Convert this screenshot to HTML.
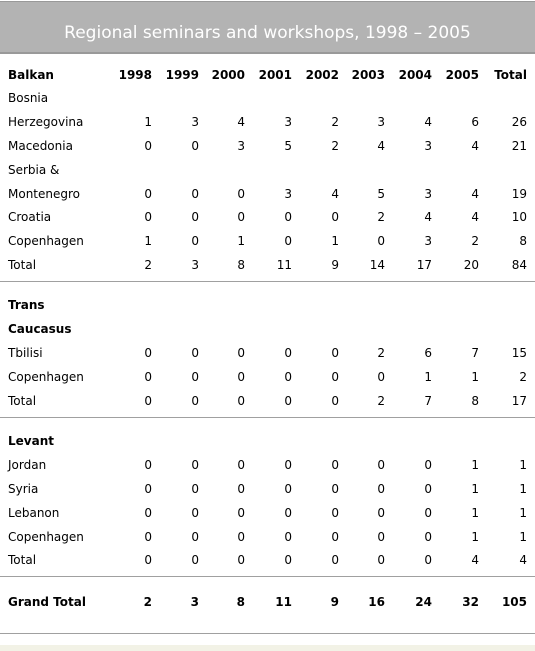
<!DOCTYPE html><html><head><style>
body{margin:0;width:535px;height:651px;background:#fff;font-family:"DejaVu Sans","Liberation Sans",sans-serif;font-size:12px;color:#000;position:relative;overflow:hidden}
.t{position:absolute;white-space:nowrap;line-height:14px}
.b{font-weight:bold}
.hr{position:absolute;left:0;width:535px;height:1px;background:#a0a0a0}
</style></head><body>
<div style="position:absolute;left:0;top:1px;width:535px;height:50px;background:#b3b3b3;border-top:1px solid #999;border-bottom:2px solid #999"></div>
<div class="t" style="left:0;width:535px;text-align:center;top:23px;color:#fff;font-size:17px;line-height:20px">Regional seminars and workshops, 1998 – 2005</div>
<div id="tbl"></div>
<div class="hr" style="top:633px"></div>
<div style="position:absolute;left:0;top:645px;width:535px;height:6px;background:#f2f2e6"></div>
<script>
const years=["1998","1999","2000","2001","2002","2003","2004","2005","Total"];
const colRight=[152,199,245,292,339,385,432,479,527];
const rows=[
["Balkan",years,75,1],
["Bosnia",null,98,0],
["Herzegovina",[1,3,4,3,2,3,4,6,26],122,0],
["Macedonia",[0,0,3,5,2,4,3,4,21],146,0],
["Serbia &",null,170,0],
["Montenegro",[0,0,0,3,4,5,3,4,19],194,0],
["Croatia",[0,0,0,0,0,2,4,4,10],217,0],
["Copenhagen",[1,0,1,0,1,0,3,2,8],241,0],
["Total",[2,3,8,11,9,14,17,20,84],265,0],
["Trans",null,305,1],
["Caucasus",null,329,1],
["Tbilisi",[0,0,0,0,0,2,6,7,15],353,0],
["Copenhagen",[0,0,0,0,0,0,1,1,2],377,0],
["Total",[0,0,0,0,0,2,7,8,17],401,0],
["Levant",null,441,1],
["Jordan",[0,0,0,0,0,0,0,1,1],465,0],
["Syria",[0,0,0,0,0,0,0,1,1],489,0],
["Lebanon",[0,0,0,0,0,0,0,1,1],513,0],
["Copenhagen",[0,0,0,0,0,0,0,1,1],537,0],
["Total",[0,0,0,0,0,0,0,4,4],560,0],
["Grand Total",[2,3,8,11,9,16,24,32,105],602,1]
];
const lines=[281,417,576];
const tb=document.getElementById('tbl');
rows.forEach(r=>{
 const l=document.createElement('div');
 l.className='t'+(r[3]?' b':'');
 l.style.left='8px';l.style.top=(r[2]-7)+'px';l.textContent=r[0];
 
 
 tb.appendChild(l);
 if(r[1]) r[1].forEach((v,i)=>{
  const c=document.createElement('div');
  c.className='t'+(r[3]?' b':'');
  c.style.right=(535-colRight[i])+'px';c.style.top=(r[2]-7)+'px';c.textContent=v;
  
  
  tb.appendChild(c);
 });
});
lines.forEach(y=>{
 const h=document.createElement('div');h.className='hr';h.style.top=y+'px';
 
 
 tb.appendChild(h);
});
</script>
</body></html>
